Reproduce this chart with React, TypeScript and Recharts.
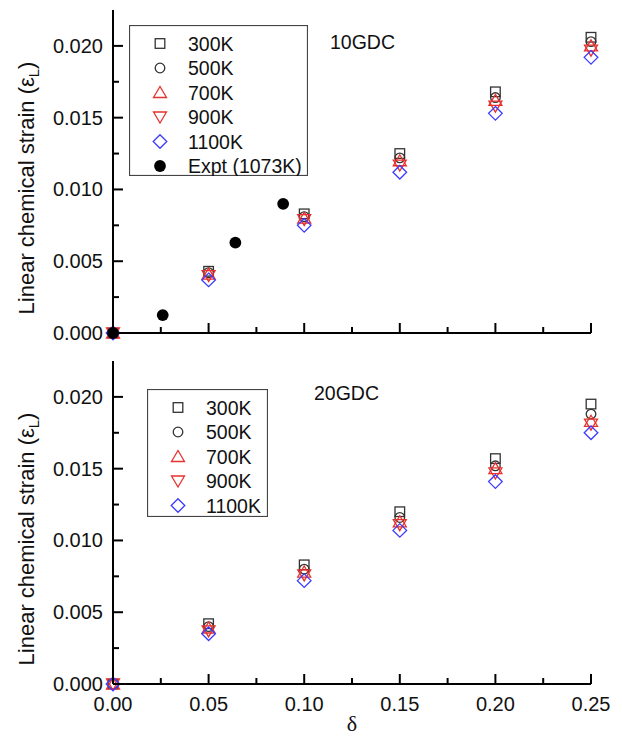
import React from 'react';
import { ScatterChart, Scatter, XAxis, YAxis, Legend, Label } from 'recharts';

// delta (oxygen nonstoichiometry) for the computed points
const deltaValues = [0, 0.05, 0.1, 0.15, 0.2, 0.25];

// 10GDC linear chemical strain
const gdc10Strain300K = [0, 0.0043, 0.0083, 0.0125, 0.0168, 0.0206];
const gdc10Strain500K = [0, 0.0042, 0.0081, 0.0122, 0.0164, 0.0203];
const gdc10Strain700K = [0, 0.0041, 0.008, 0.012, 0.0162, 0.02];
const gdc10Strain900K = [0, 0.004, 0.0079, 0.0117, 0.0158, 0.0197];
const gdc10Strain1100K = [0, 0.0037, 0.0075, 0.0112, 0.0153, 0.0192];

// experiment at 1073K (10GDC)
const exptDelta = [0, 0.026, 0.064, 0.089];
const exptStrain = [0, 0.00125, 0.0063, 0.009];

// 20GDC linear chemical strain
const gdc20Strain300K = [0, 0.0042, 0.0083, 0.012, 0.0157, 0.0195];
const gdc20Strain500K = [0, 0.004, 0.008, 0.0116, 0.0152, 0.0188];
const gdc20Strain700K = [0, 0.0039, 0.0078, 0.0113, 0.015, 0.0183];
const gdc20Strain900K = [0, 0.0037, 0.0076, 0.0111, 0.0147, 0.0181];
const gdc20Strain1100K = [0, 0.0035, 0.0072, 0.0107, 0.0141, 0.0175];

const temperatures = ['300K', '500K', '700K', '900K', '1100K'];

const xTicks = [0, 0.025, 0.05, 0.075, 0.1, 0.125, 0.15, 0.175, 0.2, 0.225, 0.25];
const xTickLabels = ['0.00', '', '0.05', '', '0.10', '', '0.15', '', '0.20', '', '0.25'];
const yTicks = [0, 0.0025, 0.005, 0.0075, 0.01, 0.0125, 0.015, 0.0175, 0.02];
const yTickLabels = ['0.000', '', '0.005', '', '0.010', '', '0.015', '', '0.020'];

const FONT = '"Liberation Sans", Arial, Helvetica, sans-serif';
const GRAY = '#333333';
const RED = '#e6322e';
const BLUE = '#3b3bff';

type MarkerKind = 'square' | 'circle' | 'up' | 'down' | 'diamond' | 'dot';
const markerKinds: MarkerKind[] = ['square', 'circle', 'up', 'down', 'diamond'];

function drawMarker(kind: MarkerKind, cx: number, cy: number) {
  const sw = 1.3;
  switch (kind) {
    case 'square':
      return <rect x={cx - 4.8} y={cy - 4.8} width={9.6} height={9.6} fill="none" stroke={GRAY} strokeWidth={sw} />;
    case 'circle':
      return <circle cx={cx} cy={cy} r={4.8} fill="none" stroke={GRAY} strokeWidth={sw} />;
    case 'up':
      return (
        <polygon
          points={`${cx},${cy - 6} ${cx + 6.5},${cy + 5} ${cx - 6.5},${cy + 5}`}
          fill="none"
          stroke={RED}
          strokeWidth={sw}
        />
      );
    case 'down':
      return (
        <polygon
          points={`${cx},${cy + 6} ${cx + 6.5},${cy - 5} ${cx - 6.5},${cy - 5}`}
          fill="none"
          stroke={RED}
          strokeWidth={sw}
        />
      );
    case 'diamond':
      return (
        <polygon
          points={`${cx},${cy - 6.8} ${cx + 6.8},${cy} ${cx},${cy + 6.8} ${cx - 6.8},${cy}`}
          fill="none"
          stroke={BLUE}
          strokeWidth={sw}
        />
      );
    default:
      return <circle cx={cx} cy={cy} r={5.9} fill="#000" />;
  }
}

const shapeFor = (kind: MarkerKind) => (props: any) => drawMarker(kind, props.cx, props.cy);

const toPoints = (xs: number[], ys: number[]) => xs.map((x, i) => ({ x, y: ys[i] }));

// inward ticks, labels only on bottom / left axes
const xTick = (withLabel: boolean, dir: number) => (props: any) => {
  const { x, y, payload } = props;
  const i = xTicks.indexOf(payload.value);
  const len = i % 2 === 0 ? 10 : 6;
  return (
    <g>
      <line x1={x} x2={x} y1={y} y2={y + dir * len} stroke="#000" strokeWidth={2} />
      {withLabel && xTickLabels[i] ? (
        <text x={x} y={y + 20} textAnchor="middle" dominantBaseline="central" fontSize={20} fontFamily={FONT} fill="#111">
          {xTickLabels[i]}
        </text>
      ) : null}
    </g>
  );
};

const yTick = (withLabel: boolean, dir: number) => (props: any) => {
  const { x, y, payload } = props;
  const i = yTicks.indexOf(payload.value);
  const len = i % 2 === 0 ? 10 : 6;
  return (
    <g>
      <line x1={x} x2={x + dir * len} y1={y} y2={y} stroke="#000" strokeWidth={2} />
      {withLabel && yTickLabels[i] ? (
        <text x={x - 10} y={y} textAnchor="end" dominantBaseline="central" fontSize={20} fontFamily={FONT} fill="#111">
          {yTickLabels[i]}
        </text>
      ) : null}
    </g>
  );
};

const YTitle = (props: any) => {
  const vb = props.viewBox || { y: 0, height: 0 };
  const cx = 34;
  const cy = vb.y + vb.height / 2 + 16.5;
  return (
    <text
      x={cx}
      y={cy}
      transform={`rotate(-90, ${cx}, ${cy})`}
      textAnchor="middle"
      fontSize={22}
      fontFamily={FONT}
      fill="#111"
    >
      Linear chemical strain (ε
      <tspan fontSize={15} dy={5}>
        L
      </tspan>
      <tspan dy={-5}>)</tspan>
    </text>
  );
};

const XTitle = (props: any) => {
  const vb = props.viewBox || { x: 0, y: 0, width: 0 };
  return (
    <text
      x={vb.x + vb.width / 2}
      y={vb.y + 47}
      textAnchor="middle"
      fontSize={22}
      fontFamily={'"Liberation Serif", "Times New Roman", serif'}
      fill="#111"
    >
      δ
    </text>
  );
};

interface LegendItem {
  label: string;
  kind: MarkerKind;
}

function LegendBox({ items, width, height }: { items: LegendItem[]; width: number; height: number }) {
  return (
    <svg width={width} height={height} style={{ display: 'block' }}>
      <rect x={0.5} y={0.5} width={width - 1} height={height - 1} fill="#fff" stroke="#444" strokeWidth={1.2} />
      {items.map((it, i) => {
        const cy = 18.5 + i * 24.5;
        return (
          <g key={it.label}>
            {drawMarker(it.kind, 31, cy)}
            <text x={59} y={cy} dominantBaseline="central" fontSize={19.5} fontFamily={FONT} fill="#111">
              {it.label}
            </text>
          </g>
        );
      })}
    </svg>
  );
}

const seriesColors = [GRAY, GRAY, RED, RED, BLUE];

function Panel({
  strains,
  withExpt,
  height,
  margin,
  bottomAxisHeight,
  showXLabels,
  legendPos,
}: {
  strains: number[][];
  withExpt: boolean;
  height: number;
  margin: { top: number; right: number; bottom: number; left: number };
  bottomAxisHeight: number;
  showXLabels: boolean;
  legendPos: { left: number; top: number; width: number; height: number };
}) {
  const items: LegendItem[] = temperatures.map((t, i) => ({ label: t, kind: markerKinds[i] }));
  if (withExpt) items.push({ label: 'Expt (1073K)', kind: 'dot' });
  return (
    <ScatterChart width={622} height={height} margin={margin}>
      <XAxis
        type="number"
        dataKey="x"
        domain={[0, 0.25]}
        ticks={xTicks}
        interval={0}
        height={bottomAxisHeight}
        tickSize={0}
        tickMargin={0}
        axisLine={{ stroke: '#000', strokeWidth: 2 }}
        tickLine={false}
        tick={xTick(showXLabels, -1)}
      >
        {showXLabels ? <Label content={XTitle} /> : null}
      </XAxis>
      <XAxis
        xAxisId="top"
        orientation="top"
        type="number"
        domain={[0, 0.25]}
        allowDataOverflow
        ticks={xTicks}
        interval={0}
        height={0}
        tickSize={0}
        tickMargin={0}
        axisLine={{ stroke: '#000', strokeWidth: 2 }}
        tickLine={false}
        tick={xTick(false, 1)}
      />
      <YAxis
        type="number"
        dataKey="y"
        domain={[0, 0.0225]}
        ticks={yTicks}
        interval={0}
        width={113}
        tickSize={0}
        tickMargin={0}
        axisLine={{ stroke: '#000', strokeWidth: 2 }}
        tickLine={false}
        tick={yTick(true, 1)}
      >
        <Label content={YTitle} />
      </YAxis>
      <YAxis
        yAxisId="right"
        orientation="right"
        type="number"
        domain={[0, 0.0225]}
        allowDataOverflow
        ticks={yTicks}
        interval={0}
        width={0}
        tickSize={0}
        tickMargin={0}
        axisLine={{ stroke: '#000', strokeWidth: 2 }}
        tickLine={false}
        tick={yTick(false, -1)}
      />
      {strains.map((ys, i) => (
        <Scatter
          key={temperatures[i]}
          name={temperatures[i]}
          data={toPoints(deltaValues, ys)}
          fill={seriesColors[i]}
          shape={shapeFor(markerKinds[i])}
          isAnimationActive={false}
        />
      ))}
      {withExpt ? (
        <Scatter
          name="Expt (1073K)"
          data={toPoints(exptDelta, exptStrain)}
          fill="#000"
          shape={shapeFor('dot')}
          isAnimationActive={false}
        />
      ) : null}
      <Legend
        layout="vertical"
        align="center"
        verticalAlign="middle"
        wrapperStyle={{ ...legendPos, position: 'absolute' }}
        content={() => <LegendBox items={items} width={legendPos.width} height={legendPos.height} />}
      />
    </ScatterChart>
  );
}

export default function App() {
  return (
    <div style={{ position: 'absolute', left: 0, top: 0, width: 622, height: 738, background: '#fff' }}>
      <div style={{ position: 'absolute', left: 0, top: 0 }}>
        <Panel
          strains={[gdc10Strain300K, gdc10Strain500K, gdc10Strain700K, gdc10Strain900K, gdc10Strain1100K]}
          withExpt
          height={347}
          margin={{ top: 10, right: 31, bottom: 0, left: 0 }}
          bottomAxisHeight={14}
          showXLabels={false}
          legendPos={{ left: 129, top: 25, width: 179, height: 151 }}
        />
      </div>
      <div style={{ position: 'absolute', left: 0, top: 347 }}>
        <Panel
          strains={[gdc20Strain300K, gdc20Strain500K, gdc20Strain700K, gdc20Strain900K, gdc20Strain1100K]}
          withExpt={false}
          height={391}
          margin={{ top: 14, right: 31, bottom: 0, left: 0 }}
          bottomAxisHeight={54}
          showXLabels
          legendPos={{ left: 147, top: 42, width: 121, height: 128 }}
        />
      </div>
      <div style={{ position: 'absolute', left: 330, top: 31, fontSize: 19.5, lineHeight: '22px', fontFamily: FONT, color: '#111' }}>
        10GDC
      </div>
      <div style={{ position: 'absolute', left: 314, top: 382, fontSize: 19.5, lineHeight: '22px', fontFamily: FONT, color: '#111' }}>
        20GDC
      </div>
    </div>
  );
}
